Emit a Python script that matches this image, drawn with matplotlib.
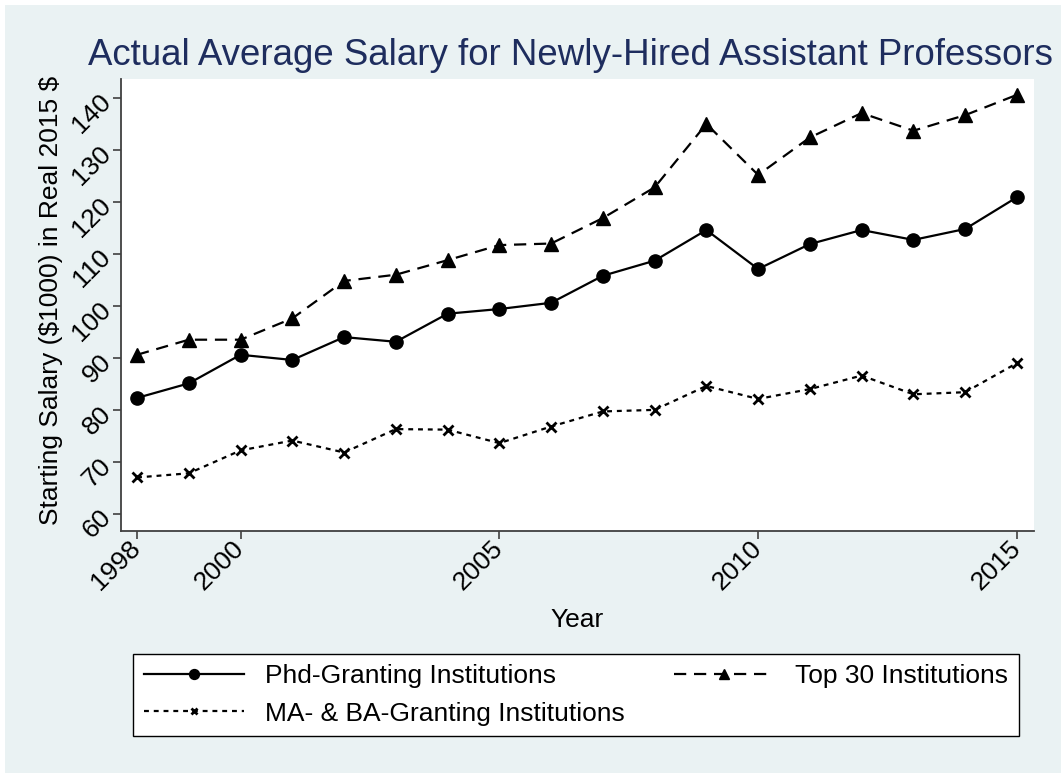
import matplotlib
matplotlib.use("Agg")
from matplotlib import pyplot as plt
from matplotlib.patches import Rectangle

years = list(range(1998, 2016))
phd = [82.3, 85.1, 90.6, 89.6, 94.0, 93.1, 98.5, 99.4, 100.6, 105.8,
       108.7, 114.6, 107.1, 111.9, 114.6, 112.7, 114.8, 120.9]
top30 = [90.6, 93.5, 93.5, 97.6, 104.8, 106.0, 108.8, 111.7, 112.0, 116.9,
         122.8, 135.0, 125.2, 132.4, 137.1, 133.7, 136.7, 140.6]
ma_ba = [67.0, 67.8, 72.2, 74.1, 71.8, 76.3, 76.2, 73.6, 76.8, 79.7,
         80.0, 84.6, 82.1, 84.0, 86.6, 83.0, 83.4, 89.0]
xticks = [1998, 2000, 2005, 2010, 2015]
yticks = list(range(60, 141, 10))

bg = '#EAF2F3'
plt.rcParams['font.family'] = ['Liberation Sans', 'DejaVu Sans']

W, H = 1061, 773
fig = plt.figure(figsize=(W / 100, H / 100), dpi=100, facecolor='white')
fig.patches.append(Rectangle((5 / W, 0), 1, 1 - 5 / H, transform=fig.transFigure,
                             facecolor=bg, edgecolor='none', zorder=-10))

ax = fig.add_axes([121 / W, 1 - 531 / H, (1034 - 121) / W, (531 - 79) / H])
ax.set_facecolor('white')

ax.plot(years, phd, color='black', lw=1.6, marker='o', ms=9.5,
        label='Phd-Granting Institutions')
ax.plot(years, ma_ba, color='black', lw=1.6, dashes=(2.2, 2.2), marker='x', ms=6.5, mew=2,
        label='MA- & BA-Granting Institutions')
ax.plot(years, top30, color='black', lw=1.6, dashes=(5.5, 3.5), marker='^', ms=10.5,
        label='Top 30 Institutions')

ax.set_xlim(1997.69, 2015.33)
ax.set_ylim(56.7, 143.65)
ax.set_xticks(xticks)
ax.set_yticks(yticks)

for s in ['top', 'right']:
    ax.spines[s].set_visible(False)
for s in ['left', 'bottom']:
    ax.spines[s].set_color('#404040')
    ax.spines[s].set_linewidth(1.3)

ax.tick_params(axis='both', direction='out', length=6, width=1.2, color='#404040',
               labelsize=19, pad=4)
for lab in ax.get_yticklabels() + ax.get_xticklabels():
    lab.set_rotation(45)
    lab.set_ha('right')
    lab.set_va('center')
    lab.set_rotation_mode('anchor')

ax.set_xlabel('Year', fontsize=19)
ax.xaxis.set_label_coords(0.5, -0.17)
ax.set_ylabel('Starting Salary (\\$1000) in Real 2015 \\$', fontsize=19)
ax.yaxis.set_label_coords(-0.064, 0.509)

fig.text(88 / W, 1 - 65 / H, 'Actual Average Salary for Newly-Hired Assistant Professors',
         fontsize=26.4, color='#1E2D5E', va='baseline', ha='left')

leg = fig.legend(loc='center', bbox_to_anchor=(133 / W, 1 - 740 / H, (1019 - 133) / W, 90 / H),
                 mode='expand', ncol=2, fontsize=19, numpoints=1, handlelength=3.8,
                 markerscale=0.75, frameon=True, fancybox=False, framealpha=1,
                 edgecolor='black', borderaxespad=0, labelspacing=0.5, columnspacing=1.0)
leg.get_frame().set_linewidth(1.0)

plt.savefig('out.png', dpi=100, facecolor='white')
